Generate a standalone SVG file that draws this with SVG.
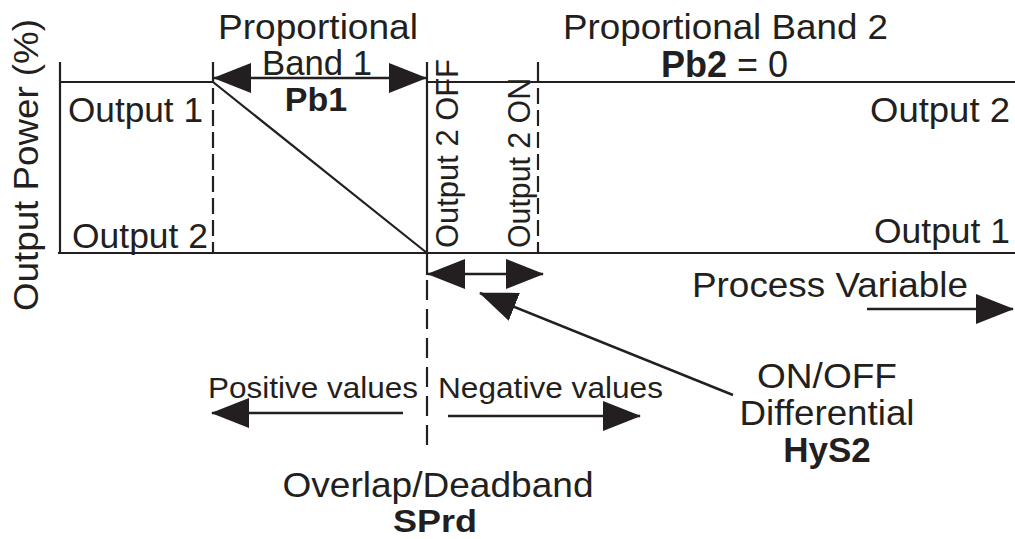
<svg xmlns="http://www.w3.org/2000/svg" width="1015" height="539" viewBox="0 0 1015 539">
<style>
text{font-family:"Liberation Sans",Arial,sans-serif;fill:#231f20;font-size:35px}
.b{font-weight:bold}
.s{font-size:30px}
.ln{stroke:#231f20;stroke-width:2.2;fill:none}
.ar{stroke:#231f20;stroke-width:2.5;fill:none}
.dash{stroke:#231f20;stroke-width:2.2;fill:none;stroke-dasharray:16 6}
</style>
<defs>
<marker id="ah" viewBox="0 0 38 30" markerWidth="38" markerHeight="30" refX="37" refY="15" orient="auto-start-reverse" markerUnits="userSpaceOnUse">
<path d="M0,0 L38,15 L0,30 Z" fill="#231f20"/>
</marker>
</defs>
<g id="frame">
<path class="ln" d="M60,62 V253 M58,253 H1015 M60,82 H213 M427,82 H1015 M213,62 V82 M427,62 V253 M538,62 V82"/>
<path class="ln" d="M213,82 L427,253"/>
<path class="dash" d="M213,88 V253 M538,88 V253"/>
<path class="ln" d="M427,253 V275"/>
<path class="dash" d="M427,280 V452" style="stroke-dasharray:20 9"/>
</g>
<g id="connectors">
<line class="ar" x1="214" y1="78" x2="426" y2="78" marker-start="url(#ah)" marker-end="url(#ah)"/>
<line class="ar" x1="428" y1="274" x2="543" y2="274" marker-start="url(#ah)" marker-end="url(#ah)"/>
<line class="ar" x1="733" y1="395" x2="480" y2="293" marker-end="url(#ah)"/>
<line class="ar" x1="867" y1="309" x2="1013" y2="309" marker-end="url(#ah)"/>
<line class="ar" x1="403" y1="413" x2="212" y2="413" marker-end="url(#ah)"/>
<line class="ar" x1="448" y1="416" x2="640" y2="416" marker-end="url(#ah)"/>
</g>
<g id="yaxis"><text transform="translate(38,311) rotate(-90)" textLength="292" lengthAdjust="spacingAndGlyphs">Output Power (%)</text></g>
<g id="pb1">
<text x="318" y="39" text-anchor="middle" textLength="200" lengthAdjust="spacingAndGlyphs">Proportional</text>
<text x="317" y="75" text-anchor="middle" textLength="110" lengthAdjust="spacingAndGlyphs">Band 1</text>
<text class="b" x="316" y="111" text-anchor="middle" style="font-size:34px">Pb1</text>
</g>
<g id="left-outputs">
<text x="68" y="122" textLength="135" lengthAdjust="spacingAndGlyphs">Output 1</text>
<text x="72" y="248" textLength="136" lengthAdjust="spacingAndGlyphs">Output 2</text>
</g>
<g id="out2off"><text transform="translate(458,248) rotate(-90)" style="font-size:31px" textLength="189" lengthAdjust="spacingAndGlyphs">Output 2 OFF</text></g>
<g id="out2on"><text transform="translate(530,248) rotate(-90)" style="font-size:31px" textLength="170" lengthAdjust="spacingAndGlyphs">Output 2 ON</text></g>
<g id="pb2">
<text x="563" y="39" textLength="325" lengthAdjust="spacingAndGlyphs">Proportional Band 2</text>
<text x="661" y="77" style="font-size:36px"><tspan class="b">Pb2</tspan> = 0</text>
</g>
<g id="right-outputs">
<text x="1010" y="122" text-anchor="end" textLength="140" lengthAdjust="spacingAndGlyphs">Output 2</text>
<text x="1010" y="243" text-anchor="end" textLength="136" lengthAdjust="spacingAndGlyphs">Output 1</text>
</g>
<g id="pv"><text x="692" y="297" textLength="276" lengthAdjust="spacingAndGlyphs">Process Variable</text></g>
<g id="values">
<text class="s" x="208" y="398" textLength="210" lengthAdjust="spacingAndGlyphs">Positive values</text>
<text class="s" x="438" y="398" textLength="225" lengthAdjust="spacingAndGlyphs">Negative values</text>
</g>
<g id="sprd">
<text x="438" y="497" text-anchor="middle" textLength="311" lengthAdjust="spacingAndGlyphs">Overlap/Deadband</text>
<text class="b" x="435" y="532" text-anchor="middle" style="font-size:32px" textLength="84" lengthAdjust="spacingAndGlyphs">SPrd</text>
</g>
<g id="hys2">
<text x="827" y="388" text-anchor="middle" textLength="140" lengthAdjust="spacingAndGlyphs">ON/OFF</text>
<text x="827" y="425" text-anchor="middle" textLength="175" lengthAdjust="spacingAndGlyphs">Differential</text>
<text class="b" x="827" y="462" text-anchor="middle">HyS2</text>
</g>
</svg>
